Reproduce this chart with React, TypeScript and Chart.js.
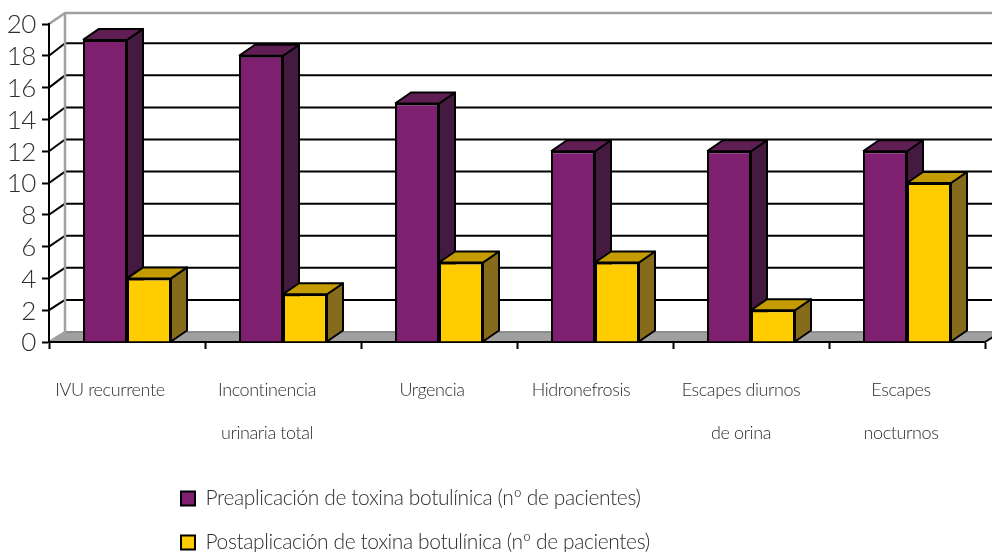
import React, { useEffect, useRef } from "react";
import { Chart, registerables } from "chart.js";

Chart.register(...registerables);

const categories = [
  "IVU recurrente",
  ["Incontinencia", "urinaria total"],
  "Urgencia",
  "Hidronefrosis",
  ["Escapes diurnos", "de orina"],
  ["Escapes", "nocturnos"],
];
const preValues = [19, 18, 15, 12, 12, 12];
const postValues = [4, 3, 5, 5, 2, 10];
const preLabel = "Preaplicación de toxina botulínica (nº de pacientes)";
const postLabel = "Postaplicación de toxina botulínica (nº de pacientes)";

const FONT = "Lato, 'Liberation Sans', sans-serif";
const TEXT = "#2e2e2e";
const DX = 16;
const DY = -10;
const BAR_DY = -11;
const WALL_STRETCH = 0.14;
const labelNudge = [-17, -16, -7, -14, -10, -6];
const shades = [
  { top: "#5f1f55", side: "#451a40" },
  { top: "#c49c00", side: "#866b1c" },
];

const poly = (ctx: CanvasRenderingContext2D, pts: number[][], fill: string | null, stroke: string | null, lw = 2) => {
  ctx.beginPath();
  pts.forEach((p, i) => (i ? ctx.lineTo(p[0], p[1]) : ctx.moveTo(p[0], p[1])));
  if (fill) {
    ctx.closePath();
    ctx.fillStyle = fill;
    ctx.fill();
  }
  if (stroke) {
    ctx.strokeStyle = stroke;
    ctx.lineWidth = lw;
    ctx.stroke();
  }
};

const depth3d = {
  id: "depth3d",
  afterLayout(chart: any) {
    const lg = chart.legend;
    if (lg) {
      lg.left = 158;
      lg.top = 465;
    }
  },
  afterUpdate(chart: any) {
    const { x: sx, y: sy } = chart.scales;
    sx.getLabelItems(chart.chartArea).forEach((it: any, i: number) => {
      const idx = Math.min(i, labelNudge.length - 1);
      it.options.translation[0] += labelNudge[idx];
    });
    sy.getLabelItems(chart.chartArea).forEach((it: any) => {
      it.options.translation[1] += 1;
    });
  },
  beforeDraw(chart: any) {
    const { ctx, chartArea: a, scales } = chart;
    const ys = scales.y;
    ctx.letterSpacing = "-0.4px";
    ctx.save();
    const bx = a.left + DX;
    const wallTop = a.top + DY - 1;
    const floorBack = a.bottom + DY;
    poly(ctx, [[a.left, a.bottom], [bx, floorBack], [a.right + DX, floorBack], [a.right, a.bottom]], "#a0a0a0", null);
    poly(ctx, [[bx, floorBack], [1000, floorBack]], null, "#8c8c8c", 2);
    ys.ticks.forEach((t: any) => {
      const y = ys.getPixelForValue(t.value);
      if (t.value === 20 || t.value === 0) return;
      const by = y + DY - t.value * WALL_STRETCH;
      poly(ctx, [[bx, by], [1000, by]], null, "#000", 2);
      poly(ctx, [[a.left, y], [bx, by]], null, "#000", 2);
    });
    poly(ctx, [[a.left, a.top], [bx, wallTop], [1000, wallTop]], null, "#a0a0a0", 2.5);
    poly(ctx, [[a.left, a.bottom], [bx, floorBack], [bx, wallTop]], null, "#a0a0a0", 2.5);
    poly(ctx, [[a.right, a.bottom], [a.right + DX, floorBack]], null, "#000", 2);
    ctx.restore();
  },
  beforeDatasetsDraw(chart: any) {
    const { ctx } = chart;
    ctx.save();
    ctx.lineJoin = "round";
    chart.data.datasets.forEach((_: any, di: number) => {
      chart.getDatasetMeta(di).data.forEach((el: any) => {
        const l = el.x - el.width / 2;
        const r = el.x + el.width / 2;
        const t = el.y;
        const b = el.base;
        poly(ctx, [[r, t], [r + DX, t + BAR_DY], [r + DX, b + BAR_DY], [r, b]], shades[di].side, null);
        poly(ctx, [[r, t], [r + DX, t + BAR_DY], [r + DX, b + BAR_DY], [r, b], [r, t]], null, "#000", 2);
        poly(ctx, [[l, t], [l + DX, t + BAR_DY], [r + DX, t + BAR_DY], [r, t]], shades[di].top, null);
        poly(ctx, [[l, t], [l + DX, t + BAR_DY], [r + DX, t + BAR_DY], [r, t], [l, t]], null, "#000", 2);
      });
    });
    ctx.restore();
  },
};

export default function App() {
  const ref = useRef<HTMLCanvasElement>(null);
  useEffect(() => {
    const chart = new Chart(ref.current as HTMLCanvasElement, {
      type: "bar",
      data: {
        labels: categories,
        datasets: [
          { label: preLabel, data: preValues, backgroundColor: "#7f1f6f", borderColor: "#000", borderWidth: 2 },
          { label: postLabel, data: postValues, backgroundColor: "#ffcc00", borderColor: "#000", borderWidth: 2 },
        ],
      },
      plugins: [depth3d],
      options: {
        responsive: false,
        animation: false,
        layout: { padding: { left: 0, right: 7, top: 24, bottom: 0 } },
        datasets: { bar: { categoryPercentage: 88 / 156, barPercentage: 1 } },
        plugins: {
          tooltip: { enabled: false },
          legend: {
            position: "bottom",
            align: "start",
            fullSize: false,
            labels: {
              color: TEXT,
              font: { family: FONT, size: 21, weight: 300 },
              boxWidth: 14,
              boxHeight: 14,
              padding: 23,
            },
          },
        },
        scales: {
          x: {
            grid: { drawOnChartArea: false, offset: true, tickLength: 7, tickColor: "#000", tickWidth: 2 },
            border: { color: "#000", width: 2 },
            ticks: {
              color: TEXT,
              font: { family: FONT, size: 18, lineHeight: "43px", weight: 300 },
              padding: 20,
              maxRotation: 0,
              autoSkip: false,
            },
            afterFit(s: any) {
              s.height = 112;
            },
          },
          y: {
            min: 0,
            max: 20,
            grid: { drawOnChartArea: false, tickLength: 7, tickColor: "#000", tickWidth: 2 },
            border: { color: "#000", width: 2 },
            ticks: {
              stepSize: 2,
              autoSkip: false,
              color: TEXT,
              font: { family: FONT, size: 26, weight: 300 },
              padding: 6,
            },
            afterFit(s: any) {
              s.width = 49;
            },
          },
        },
      },
    } as any);
    return () => chart.destroy();
  }, []);
  return (
    <div style={{ position: "absolute", left: 0, top: 0 }}>
      <canvas ref={ref} width={992} height={552} style={{ display: "block" }} />
    </div>
  );
}
